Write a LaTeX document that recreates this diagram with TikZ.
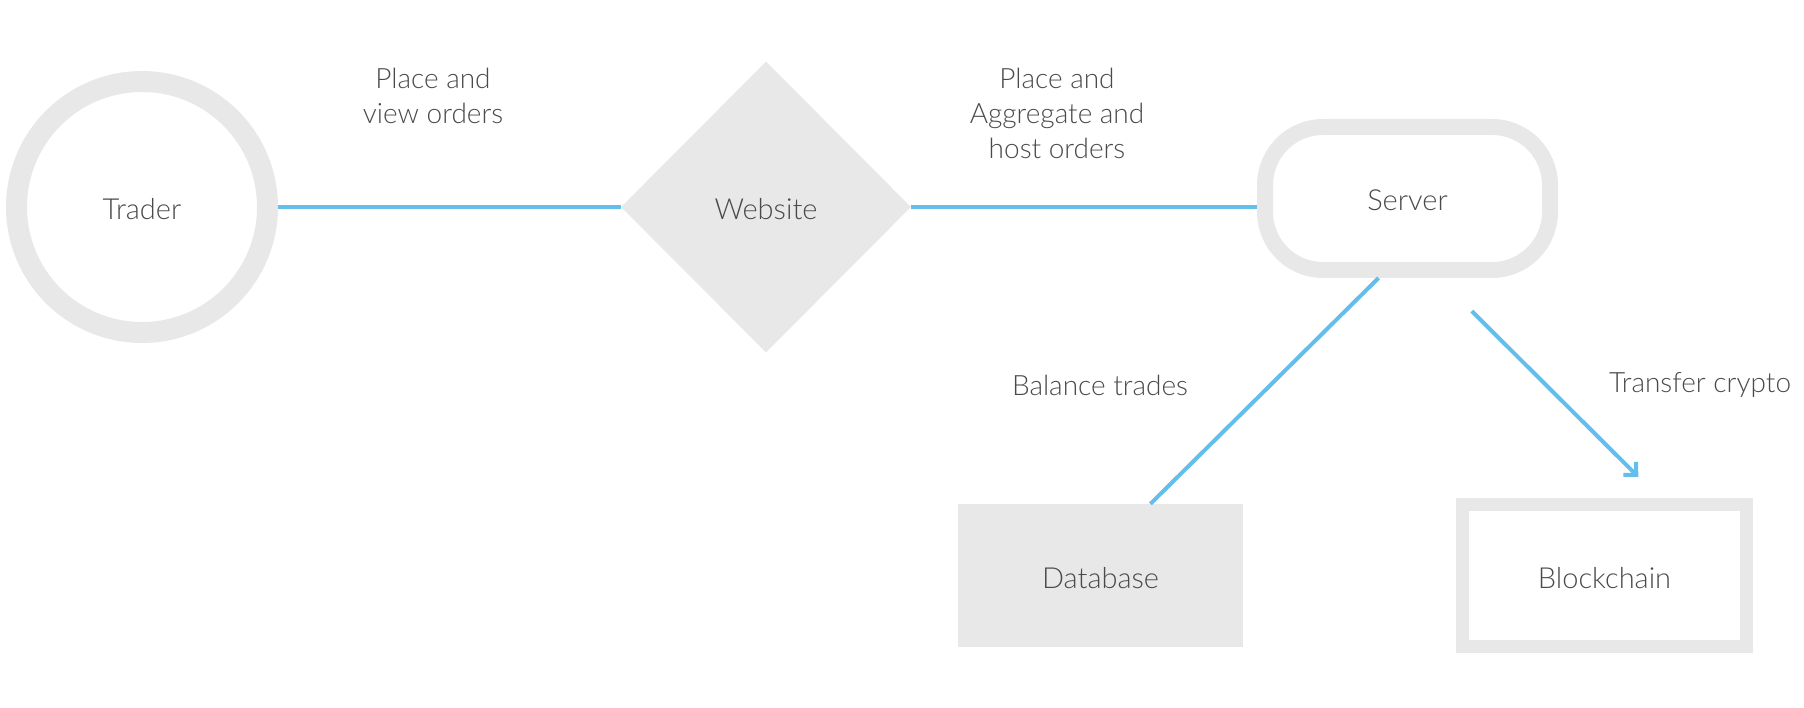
\documentclass[tikz,border=0pt]{standalone}
\usepackage{fontspec}
\setmainfont{Lato}[UprightFont=* Light]
\usetikzlibrary{shapes.geometric,positioning,arrows.meta}
\definecolor{ringgray}{HTML}{E8E8E8}
\definecolor{linkblue}{HTML}{63BEEC}
\definecolor{textgray}{HTML}{4A4A4A}
\tikzset{
  box/.style={font=\fontsize{29}{34}\selectfont, text=textgray, inner sep=0, text height=25, text depth=0},
  lbl/.style={font=\fontsize{28}{35}\selectfont, text=textgray, align=center, inner sep=0},
  link/.style={draw=linkblue, line width=4}
}
\begin{document}
\begin{tikzpicture}[x=1pt,y=-1pt]
  \useasboundingbox (0,0) rectangle (1804,708);
  \node[box, circle, draw=ringgray, line width=21, minimum size=251] (trader) at (142,207) {Trader};
  \node[box, diamond, fill=ringgray, minimum width=290, minimum height=291, aspect=1] (website) at (766,207) {Website};
  \node[box, rectangle, draw=ringgray, line width=16, rounded corners=58, minimum width=285, minimum height=143] (server) at (1407.5,198.5) {Server};
  \node[box, rectangle, fill=ringgray, minimum width=285, minimum height=143] (database) at (1100.5,575.5) {Database};
  \node[box, rectangle, draw=ringgray, line width=13, minimum width=284, minimum height=142] (blockchain) at (1604.5,575.5) {Blockchain};
  % edge labels
  \node[lbl] (orders) at (433,96) {Place and\\view orders};
  \node[lbl] (host) at (1057,113) {Place and\\Aggregate and\\host orders};
  \node[lbl] (balance) at (1100,385) {Balance trades};
  \node[lbl] (transfer) at (1700,385) {Transfer crypto};
  % links
  \draw[link] (trader) -- (website);
  \draw[link] (website.east) -- (website.east -| server.west);
  \draw[link] ([xshift=-29]server.south) -- ([xshift=50]database.north);
  \draw[link, -{Straight Barb[angle=90:13pt, line width=4]}, shorten <=47, shorten >=30]
    ([xshift=31]server.south) -- ([xshift=55]blockchain.north);
\end{tikzpicture}
\end{document}
